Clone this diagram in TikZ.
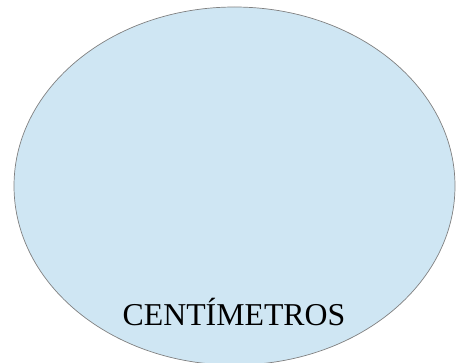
\documentclass[tikz,border=0pt]{standalone}
\usepackage{fontspec}
\setmainfont{Liberation Serif}
\usetikzlibrary{shapes.geometric}
\definecolor{azulclaro}{RGB}{207,230,243}
\definecolor{bordacinza}{RGB}{128,128,128}

\begin{document}
\begin{tikzpicture}[
    x=1pt, y=-1pt,
    elipse/.style={ellipse, draw=bordacinza, fill=azulclaro, line width=0.7pt, inner sep=0pt, minimum width=441pt, minimum height=358pt},
    rotulo/.style={anchor=base, font=\fontsize{31.8}{36}\selectfont, inner sep=0pt}
  ]
    \useasboundingbox (0,0) rectangle (460,363);
    \node[elipse] (cent) at (234.5,186) {};
    \node[rotulo] (texto) at (234,325) {CENTÍMETROS};
  \end{tikzpicture}
\end{document}
